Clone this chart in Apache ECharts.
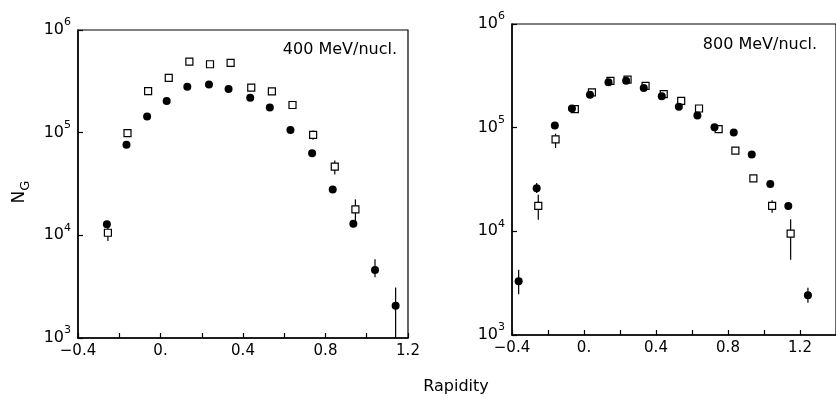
<!DOCTYPE html>
<html>
<head>
<meta charset="utf-8">
<script src="https://cdn.jsdelivr.net/npm/echarts@6/dist/echarts.min.js"></script>
<style>html,body{margin:0;padding:0;background:#fff}#c{width:836px;height:402px}</style>
</head>
<body>
<div id="c"></div>
<script>
// ---- data ----
// 400 MeV/nucl. panel
const leftCircX = [-0.26, -0.165, -0.065, 0.03, 0.13, 0.235, 0.33, 0.435, 0.53, 0.63, 0.735, 0.835, 0.935, 1.04, 1.14];
const leftCircY = [12800, 76400, 144000, 204000, 280000, 294000, 266000, 219000, 176000, 106000, 63000, 28000, 13000, 4600, 2060];
const leftSqX = [-0.255, -0.16, -0.06, 0.04, 0.14, 0.24, 0.34, 0.44, 0.54, 0.64, 0.74, 0.845, 0.945];
const leftSqY = [10600, 99000, 254000, 342000, 492000, 464000, 478000, 274000, 252000, 186000, 95000, 46700, 17900];
// error bars: [x, low, high]
const leftErr = [
  [1.04, 3900, 5850], [1.14, 1000, 3100],
  [-0.255, 8810, 11900], [0.74, 85100, 104700], [0.845, 39100, 53500], [0.945, 13300, 22400]
];
// 800 MeV/nucl. panel
const rightCircX = [-0.363, -0.263, -0.162, -0.067, 0.033, 0.136, 0.234, 0.332, 0.432, 0.527, 0.63, 0.725, 0.832, 0.932, 1.035, 1.135, 1.244];
const rightCircY = [3300, 26000, 105000, 153000, 208000, 274000, 283000, 242000, 201000, 159000, 131000, 101000, 90000, 55000, 28600, 17600, 2420];
const rightSqX = [-0.254, -0.158, -0.051, 0.044, 0.147, 0.242, 0.342, 0.443, 0.54, 0.639, 0.748, 0.841, 0.941, 1.045, 1.148];
const rightSqY = [17600, 77000, 151000, 219000, 283000, 291000, 253000, 211000, 181000, 153000, 97000, 60000, 32400, 17600, 9500];
const rightErr = [
  [-0.363, 2470, 4250], [-0.263, 23400, 29200], [1.244, 2050, 2860], [1.035, 27000, 30500], [1.135, 16500, 18800],
  [-0.254, 12900, 22500], [-0.158, 63700, 87500], [1.045, 15100, 19900], [1.148, 5310, 13100]
];
const xTickLabels = {'-0.4': '\u22120.4', '0': '0.', '0.4': '0.4', '0.8': '0.8', '1.2': '1.2'};
const yExponents = {1000: '3', 10000: '4', 100000: '5', 1000000: '6'};

// ---- chart ----
const FONT = 'DejaVu Sans';
const ink = '#000';
function zip(a, b) { return a.map((v, i) => [v, b[i]]); }
function xLabel(v) {
  const k = (Math.round(v * 10) / 10).toString();
  return xTickLabels[k] !== undefined ? xTickLabels[k] : '';
}
function yLabel(v) {
  const e = yExponents[Math.round(v)];
  return e ? '{b|10}{s|' + e + '}' : '';
}
function xAxis(idx, max) {
  return {
    type: 'value', gridIndex: idx, min: -0.4, max: max, interval: 0.2,
    axisLine: {onZero: false, lineStyle: {color: ink, width: 1.5}},
    axisTick: {inside: true, length: 5, lineStyle: {color: ink, width: 1.2}},
    axisLabel: {formatter: xLabel, color: ink, fontFamily: FONT, fontSize: 15, margin: 6, showMaxLabel: max <= 1.2},
    splitLine: {show: false}
  };
}
function yAxis(idx) {
  return {
    type: 'log', logBase: 10, gridIndex: idx, min: 1000, max: 1000000,
    axisLine: {show: true, onZero: false, lineStyle: {color: ink, width: 1.5}},
    axisTick: {inside: true, length: 5, lineStyle: {color: ink, width: 1.2}},
    minorTick: {show: false},
    axisLabel: {
      formatter: yLabel, color: ink, margin: 7,
      rich: {
        b: {fontFamily: FONT, fontSize: 16, color: ink},
        s: {fontFamily: FONT, fontSize: 11, color: ink, padding: [0, 0, 15, 0]}
      }
    },
    splitLine: {show: false}
  };
}
function errSeries(idx, data) {
  return {
    type: 'custom', xAxisIndex: idx, yAxisIndex: idx, data: data, z: 1,
    encode: {x: 0, y: [1, 2]}, clip: true,
    renderItem: function (params, api) {
      const p1 = api.coord([api.value(0), api.value(1)]);
      const p2 = api.coord([api.value(0), api.value(2)]);
      return {type: 'line', shape: {x1: p1[0], y1: p1[1], x2: p2[0], y2: p2[1]},
        style: {stroke: ink, lineWidth: 1.2}};
    }
  };
}
function sq(idx, data) {
  return {type: 'scatter', xAxisIndex: idx, yAxisIndex: idx, data: data, symbol: 'rect', symbolSize: 7, z: 2,
    itemStyle: {color: '#fff', borderColor: ink, borderWidth: 1.2, opacity: 1}, emphasis: {disabled: true}};
}
function circ(idx, data) {
  return {type: 'scatter', xAxisIndex: idx, yAxisIndex: idx, data: data, symbol: 'circle', symbolSize: 8, z: 3,
    itemStyle: {color: ink, opacity: 1}, emphasis: {disabled: true}};
}

const chart = echarts.init(document.getElementById('c'), null, {renderer: 'canvas'});
chart.setOption({
  backgroundColor: '#fff',
  animation: false,
  grid: [
    {left: 78, top: 30, width: 330, height: 308, show: true, borderColor: ink, borderWidth: 1.2, backgroundColor: 'transparent'},
    {left: 512, top: 24, width: 330, height: 311, show: true, borderColor: ink, borderWidth: 1.2, backgroundColor: 'transparent'}
  ],
  xAxis: [xAxis(0, 1.2), xAxis(1, 1.4)],
  yAxis: [yAxis(0), yAxis(1)],
  series: [
    errSeries(0, leftErr), sq(0, zip(leftSqX, leftSqY)), circ(0, zip(leftCircX, leftCircY)),
    errSeries(1, rightErr), sq(1, zip(rightSqX, rightSqY)), circ(1, zip(rightCircX, rightCircY))
  ],
  graphic: [
    {type: 'text', x: 397, y: 50, style: {text: '400 MeV/nucl.', fill: ink, font: '16px "' + FONT + '"', align: 'right', verticalAlign: 'middle'}},
    {type: 'text', x: 817, y: 45, style: {text: '800 MeV/nucl.', fill: ink, font: '16px "' + FONT + '"', align: 'right', verticalAlign: 'middle'}},
    {type: 'text', x: 456, y: 387, style: {text: 'Rapidity', fill: ink, font: '16px "' + FONT + '"', align: 'center', verticalAlign: 'middle'}},
    {type: 'text', x: 20, y: 192, rotation: Math.PI / 2, style: {
      text: '{n|N}{g|G}', align: 'center', verticalAlign: 'middle', fill: ink,
      rich: {n: {fontFamily: FONT, fontSize: 17, color: ink}, g: {fontFamily: FONT, fontSize: 13, color: ink, padding: [12, 0, 0, 0]}}
    }}
  ]
});
</script>
</body>
</html>
